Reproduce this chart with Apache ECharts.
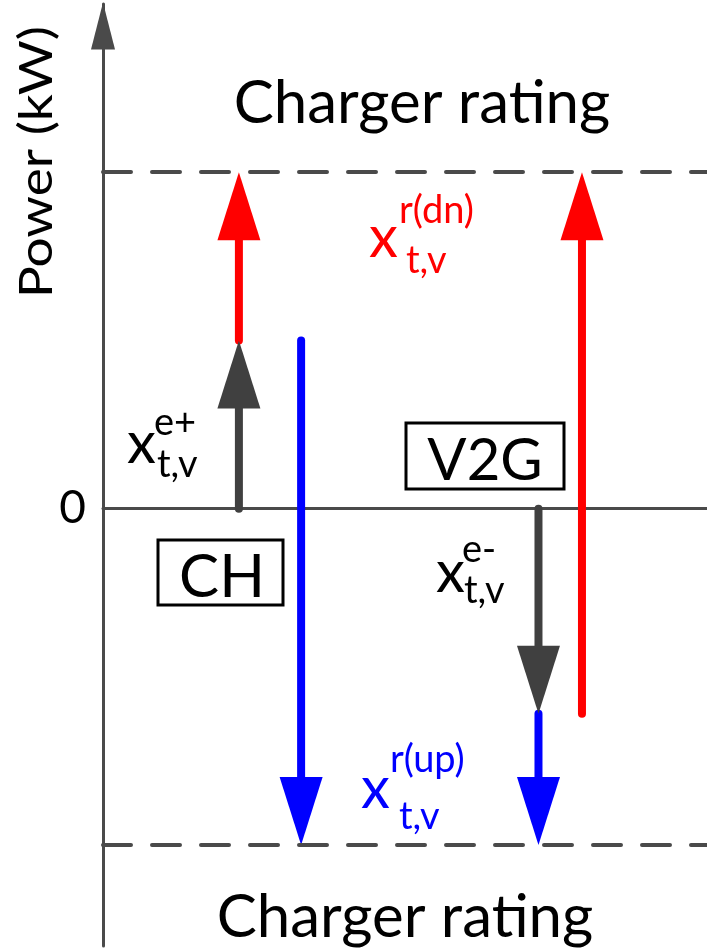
<!DOCTYPE html>
<html>
<head>
<meta charset="utf-8">
<script src="https://cdn.jsdelivr.net/npm/echarts@6/dist/echarts.min.js"></script>
<style>
  html, body { margin: 0; padding: 0; background: #ffffff; }
  #chart { width: 707px; height: 950px; }
</style>
</head>
<body>
<div id="chart"></div>
<script>
// Operating modes of the EV charger
const modes = ['CH', 'V2G'];
// Charger power rating (kW), same limit for charging and discharging
const chargerRating = 10;
// Scheduled energy power per mode (kW): x^{e+} when charging, x^{e-} when discharging
const energyPower = [5, -6.1];
// Labelled ticks on the power axis
const powerTicks = [0];

// Horizontal lanes (0–100 across the plot) where each arrow family is drawn
const lanes = {
  energy: [22.5, 72.1],
  reserveUp: [32.8, 72.1],
  reserveDown: [22.5, 79.3]
};

const COLORS = { energy: '#404040', up: '#0000ff', down: '#ff0000', axis: '#4a4a4a', text: '#000000' };
const FONT = 'Lato';

// Arrow records: [lane, from, to]
const energyArrows = modes.map((m, i) => [lanes.energy[i], 0, energyPower[i]]);
const reserveDownArrows = modes.map((m, i) => [lanes.reserveDown[i], energyPower[i], chargerRating]);
const reserveUpArrows = modes.map((m, i) => [lanes.reserveUp[i], energyPower[i], -chargerRating]);

const HEAD_LEN = 68, HEAD_W = 43, SHAFT_W = 8;

function renderArrow(params, api) {
  const x = api.value(0), from = api.value(1), to = api.value(2);
  const p0 = api.coord([x, from]);
  const p1 = api.coord([x, to]);
  const dir = p1[1] > p0[1] ? 1 : -1;
  const baseY = p1[1] - dir * HEAD_LEN;
  const color = api.visual('color');
  return {
    type: 'group',
    children: [
      {
        type: 'line',
        shape: { x1: p0[0], y1: p0[1], x2: p1[0], y2: baseY + dir * 2 },
        style: { stroke: color, lineWidth: SHAFT_W, lineCap: 'round' }
      },
      {
        type: 'polygon',
        shape: { points: [[p1[0] - HEAD_W / 2, baseY], [p1[0] + HEAD_W / 2, baseY], [p1[0], p1[1]]] },
        style: { fill: color }
      }
    ]
  };
}

function arrowSeries(name, data, color, z) {
  return {
    type: 'custom',
    name: name,
    data: data,
    encode: { x: 0, y: [1, 2] },
    renderItem: renderArrow,
    itemStyle: { color: color },
    z: z,
    silent: true
  };
}

// Middle of Lato's em box sits ~0.32em above the baseline
function textAt(left, baseline, str, size, color, align) {
  return {
    type: 'text',
    x: left,
    y: baseline - 0.32 * size,
    z: 10,
    style: {
      text: str,
      font: size + 'px ' + FONT,
      fill: color || COLORS.text,
      align: align || 'left',
      verticalAlign: 'middle'
    }
  };
}

// x with superscript and subscript
function mathSymbol(color, main, sup, sub) {
  return [
    textAt(main[0], main[1], 'x', 58, color),
    textAt(sup[0], sup[1], sup[2], 38, color),
    textAt(sub[0], sub[1], 't,v', 38, color)
  ];
}

function modeBox(l, t, w, h, label, cx, baseline, size) {
  return [
    {
      type: 'rect',
      shape: { x: l, y: t, width: w, height: h },
      style: { fill: '#ffffff', stroke: '#000000', lineWidth: 3 },
      z: 10
    },
    textAt(cx, baseline, label, size, COLORS.text, 'center')
  ];
}

const chart = echarts.init(document.getElementById('chart'), null, { renderer: 'canvas' });

chart.setOption({
  animation: false,
  backgroundColor: '#ffffff',
  grid: { left: 103, right: 0, top: 4, bottom: 4, containLabel: false },
  xAxis: {
    type: 'value',
    min: 0,
    max: 100,
    axisLine: { show: true, onZero: true, lineStyle: { color: COLORS.axis, width: 3 } },
    axisTick: { show: false },
    axisLabel: { show: false },
    splitLine: { show: false }
  },
  yAxis: {
    type: 'value',
    min: -13,
    max: 15,
    interval: 1,
    axisLine: {
      show: true,
      lineStyle: { color: COLORS.axis, width: 3 },
      symbol: ['none', 'triangle'],
      symbolSize: [24, 47],
      symbolOffset: [0, -22]
    },
    axisTick: { show: false },
    splitLine: { show: false },
    axisLabel: {
      margin: 17,
      fontFamily: FONT,
      fontSize: 46,
      color: COLORS.text,
      padding: [10, 0, 0, 0],
      formatter: v => (powerTicks.indexOf(v) >= 0 ? String(v) : '')
    }
  },
  series: [
    {
      type: 'line',
      name: 'Charger rating',
      data: [],
      z: 1,
      silent: true,
      markLine: {
        silent: true,
        symbol: 'none',
        label: { show: false },
        lineStyle: { color: COLORS.axis, width: 4, type: [28, 21], cap: 'round' },
        data: [{ yAxis: chargerRating }, { yAxis: -chargerRating }]
      }
    },
    arrowSeries('Reserve down', reserveDownArrows, COLORS.down, 3),
    arrowSeries('Reserve up', reserveUpArrows, COLORS.up, 3),
    arrowSeries('Energy', energyArrows, COLORS.energy, 4)
  ],
  graphic: [
    // axis title, stretched along its reading direction
    {
      type: 'text',
      x: 37,
      y: 162,
      rotation: Math.PI / 2,
      scaleX: 1.13,
      z: 10,
      style: {
        text: 'Power (kW)',
        font: '47px ' + FONT,
        fill: COLORS.text,
        align: 'center',
        verticalAlign: 'middle'
      }
    },
    textAt(422, 123, 'Charger rating', 60, COLORS.text, 'center'),
    textAt(405, 937, 'Charger rating', 60, COLORS.text, 'center'),
    ...modeBox(158, 540, 125, 65, 'CH', 222, 597, 60),
    ...modeBox(406, 423, 158, 66, 'V2G', 485, 480, 58),
    ...mathSymbol(COLORS.down, [369, 257], [399, 223, 'r(dn)'], [406, 273]),
    ...mathSymbol(COLORS.text, [127, 463], [154, 435, 'e+'], [157, 477]),
    ...mathSymbol(COLORS.text, [436, 592], [462, 562, 'e-'], [464, 603]),
    ...mathSymbol(COLORS.up, [361, 808], [390, 772, 'r(up)'], [399, 829])
  ]
});
</script>
</body>
</html>
